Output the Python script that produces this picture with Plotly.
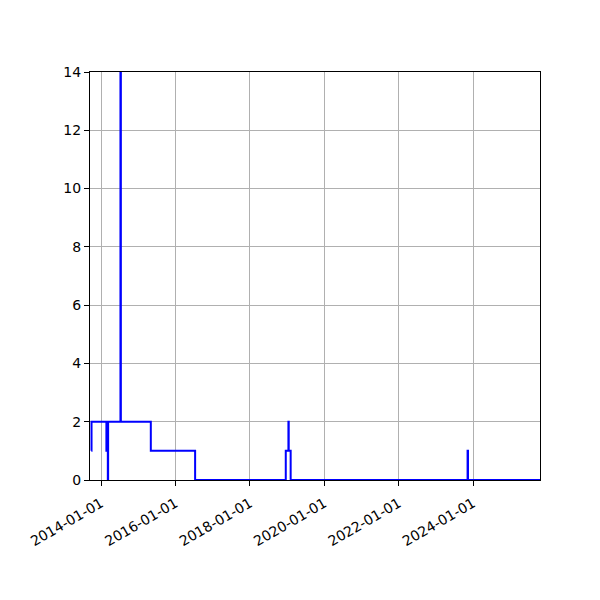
import plotly.graph_objects as go

# step series
dates = [
    "2013-09-27", "2013-09-29", "2014-02-22", "2014-02-25", "2014-03-06",
    "2014-03-08", "2014-03-11", "2014-07-10", "2014-07-14", "2015-05-04",
    "2016-07-12", "2018-12-19", "2019-01-14", "2019-01-17", "2019-02-05",
    "2023-11-08", "2023-11-12", "2025-10-19",
]
values = [1, 2, 1, 2, 1, 0, 2, 14, 2, 1, 0, 1, 2, 1, 0, 1, 0, 0]

tick_dates = ["2014-01-01", "2016-01-01", "2018-01-01", "2020-01-01",
              "2022-01-01", "2024-01-01"]
y_ticks = [0, 2, 4, 6, 8, 10, 12, 14]

fig = go.Figure()
fig.add_trace(
    go.Scatter(
        x=dates,
        y=values,
        mode="lines",
        line={"color": "#0000ff", "width": 2, "shape": "hv"},
        showlegend=False,
    )
)

axis_common = {
    "showline": True,
    "linecolor": "black",
    "linewidth": 1,
    "mirror": True,
    "ticks": "outside",
    "ticklen": 5,
    "tickcolor": "black",
    "showgrid": True,
    "gridcolor": "#b0b0b0",
    "gridwidth": 1,
    "zeroline": False,
    "tickfont": {"family": "DejaVu Sans", "size": 14, "color": "black"},
}
fig.update_xaxes(
    type="date",
    range=["2013-09-14", "2025-10-19"],
    tickvals=tick_dates,
    ticktext=tick_dates,
    tickangle=-30,
    ticklabelstandoff=4,
    **axis_common,
)
fig.update_yaxes(range=[0, 14], tickvals=y_ticks, **axis_common)
fig.update_layout(
    width=600,
    height=600,
    plot_bgcolor="white",
    paper_bgcolor="white",
    margin={"l": 82, "r": 68, "t": 64, "b": 128},
)
fig.write_html("out.html")
